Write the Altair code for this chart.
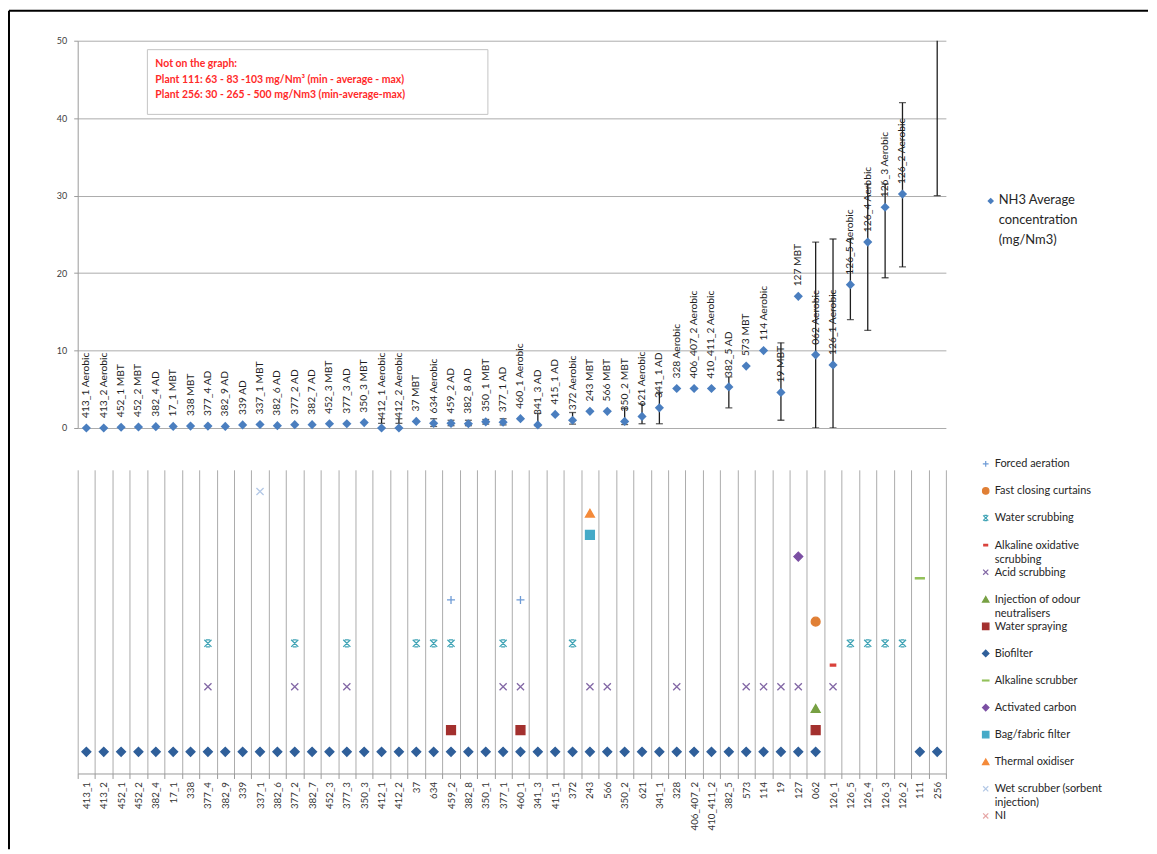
import altair as alt
import pandas as pd

N = None

# ---------------- data ----------------
plants = ["413_1", "413_2", "452_1", "452_2", "382_4", "17_1", "338", "377_4", "382_9", "339",
          "337_1", "382_6", "377_2", "382_7", "452_3", "377_3", "350_3", "412_1", "412_2", "37",
          "634", "459_2", "382_8", "350_1", "377_1", "460_1", "341_3", "415_1", "372", "243",
          "566", "350_2", "621", "341_1", "328", "406_407_2", "410_411_2", "382_5", "573", "114",
          "19", "127", "062", "126_1", "126_5", "126_4", "126_3", "126_2", "111", "256"]

process = ["Aerobic", "Aerobic", "MBT", "MBT", "AD", "MBT", "MBT", "AD", "AD", "AD",
           "MBT", "AD", "AD", "AD", "MBT", "AD", "MBT", "Aerobic", "Aerobic", "MBT",
           "Aerobic", "AD", "AD", "MBT", "AD", "Aerobic", "AD", "AD", "Aerobic", "MBT",
           "MBT", "MBT", "Aerobic", "AD", "Aerobic", "Aerobic", "Aerobic", "AD", "MBT", "Aerobic",
           "MBT", "MBT", "Aerobic", "Aerobic", "Aerobic", "Aerobic", "Aerobic", "Aerobic", "", ""]

nh3_avg = [0.0, 0.0, 0.1, 0.13, 0.17, 0.2, 0.25, 0.25, 0.2, 0.4,
           0.45, 0.3, 0.43, 0.43, 0.55, 0.55, 0.7, 0.0, 0.0, 0.85,
           0.6, 0.6, 0.55, 0.8, 0.75, 1.2, 0.4, 1.75, 1.0, 2.15,
           2.15, 0.85, 1.5, 2.6, 5.1, 5.1, 5.1, 5.3, 8.0, 10.0,
           4.6, 17.0, 9.45, 8.15, 18.5, 24.0, 28.5, 30.2, 83, 265]

nh3_min = [N, N, N, N, N, N, N, N, N, N,
           N, N, N, N, N, N, N, 0.6, 0.6, N,
           0.2, 0.3, 0.3, 0.5, 0.4, N, 0.3, N, 0.5, N,
           N, 0.45, 0.55, 0.55, N, N, N, 2.6, N, N,
           1.0, N, 0.0, 0.0, 14.0, 12.6, 19.4, 20.8, 63, 30]

nh3_max = [N, N, N, N, N, N, N, N, N, N,
           N, N, N, N, N, N, N, 1.2, 1.2, N,
           1.2, 1.0, 1.0, 1.1, 1.2, N, 1.9, N, 2.0, N,
           N, 2.5, 3.1, 4.6, N, N, N, 6.6, N, N,
           11.0, N, 24.0, 24.4, 24.4, 31.5, 31.5, 42.0, 103, 500]

y_ticks = [0, 5, 10, 15, 20, 25, 30, 35, 40, 45, 50]

note_lines = ["Not on the graph:",
              "Plant 111: 63 - 83 -103 mg/Nm\u00b3 (min - average - max)",
              "Plant 256: 30 - 265 - 500 mg/Nm3 (min-average-max)"]

series_label = "NH3 Average\nconcentration\n(mg/Nm3)"

tech_names = ["Forced aeration", "Fast closing curtains", "Water scrubbing",
              "Alkaline oxidative scrubbing", "Acid scrubbing", "Injection of odour neutralisers",
              "Water spraying", "Biofilter", "Alkaline scrubber", "Activated carbon",
              "Bag/fabric filter", "Thermal oxidiser", "Wet scrubber (sorbent injection)", "NI"]
tech_legend_labels = ["Forced aeration", "Fast closing curtains", "Water scrubbing",
                      "Alkaline oxidative\nscrubbing", "Acid scrubbing", "Injection of odour\nneutralisers",
                      "Water spraying", "Biofilter", "Alkaline scrubber", "Activated carbon",
                      "Bag/fabric filter", "Thermal oxidiser", "Wet scrubber (sorbent\ninjection)", "NI"]
tech_level = [8, 7, 6, 5, 4, 3, 2, 1, 9, 10, 11, 12, 13, 14]

forced_aeration = ["459_2", "460_1"]
fast_closing_curtains = ["062"]
water_scrubbing = ["377_4", "377_2", "377_3", "37", "634", "459_2", "377_1", "372",
                   "126_5", "126_4", "126_3", "126_2"]
alkaline_oxidative = ["126_1"]
acid_scrubbing = ["377_4", "377_2", "377_3", "377_1", "460_1", "243", "566", "328",
                  "573", "114", "19", "127", "126_1"]
odour_neutralisers = ["062"]
water_spraying = ["459_2", "460_1", "062"]
biofilter = ["413_1", "413_2", "452_1", "452_2", "382_4", "17_1", "338", "377_4", "382_9", "339",
             "337_1", "382_6", "377_2", "382_7", "452_3", "377_3", "350_3", "412_1", "412_2", "37",
             "634", "459_2", "382_8", "350_1", "377_1", "460_1", "341_3", "415_1", "372", "243",
             "566", "350_2", "621", "341_1", "328", "406_407_2", "410_411_2", "382_5", "573", "114",
             "19", "127", "062", "111", "256"]
alkaline_scrubber = ["111"]
activated_carbon = ["127"]
bag_filter = ["243"]
thermal_oxidiser = ["243"]
wet_scrubber = ["337_1"]
no_info = []

tech_members = [forced_aeration, fast_closing_curtains, water_scrubbing, alkaline_oxidative,
                acid_scrubbing, odour_neutralisers, water_spraying, biofilter, alkaline_scrubber,
                activated_carbon, bag_filter, thermal_oxidiser, wet_scrubber, no_info]

# ---------------- styles ----------------
FONT = "Lato"
GRID = "#ABABAB"
TXT = "#262626"
tech_colors = ["#6E9BD6", "#E07F35", "#3FA3B5", "#D9403A", "#8267A5", "#77A043",
               "#A3302E", "#2F5F9A", "#93C15A", "#7B4FA3", "#45AAC8", "#F48A3A",
               "#B3C8E6", "#E6A6A6"]
X_PATH = "M-0.8,-0.8L0.8,0.8M0.8,-0.8L-0.8,0.8"
tech_shapes = ["M-0.9,0L0.9,0M0,-0.9L0,0.9",
               "circle",
               "M-0.8,-0.8L0.8,0.8M0.8,-0.8L-0.8,0.8M-0.45,-0.8L0.45,-0.8M-0.45,0.8L0.45,0.8",
               "M-0.6,-0.22L0.6,-0.22L0.6,0.22L-0.6,0.22Z",
               X_PATH,
               "triangle-up",
               "square",
               "diamond",
               "M-1,-0.14L1,-0.14L1,0.14L-1,0.14Z",
               "diamond",
               "square",
               "triangle-up",
               X_PATH,
               X_PATH]

# ---------------- frames ----------------
df = pd.DataFrame({"plant": plants, "process": process, "avg": nh3_avg,
                   "lo": nh3_min, "hi": nh3_max})
df["label"] = df["plant"] + " " + df["process"]
df_pts = df[df["avg"] <= 50]
df_err = df[df["lo"].notna()]

rows = []
for name, lvl, members in zip(tech_names, tech_level, tech_members):
    for p in members:
        rows.append({"plant": p, "technique": name, "level": lvl})
df_tech = pd.DataFrame(rows)

df_leg = pd.DataFrame({"technique": tech_names, "label": tech_legend_labels,
                       "order": list(range(len(tech_names)))})

one = pd.DataFrame({"k": [0]})

W = 872
COLSP = 36

# ---------------- top panel ----------------
xs_top = alt.X("plant:N", sort=plants,
               scale=alt.Scale(domain=plants, paddingInner=0, paddingOuter=0), axis=None)
ys_top = alt.Y("avg:Q", scale=alt.Scale(domain=[0, 50]),
               axis=alt.Axis(values=y_ticks, title=None, grid=True, gridColor=GRID,
                             domainColor="#9A9A9A", tickColor="#9A9A9A", tickSize=4,
                             labelFontSize=9, labelColor="#404040", labelPadding=7,
                             labelFont=FONT))

err_rule = alt.Chart(df_err).mark_rule(color="#1F1F1F", strokeWidth=1.3, clip=True).encode(
    x=xs_top, y=alt.Y("lo:Q", scale=alt.Scale(domain=[0, 50])), y2="hi:Q")
err_lo = alt.Chart(df_err).mark_tick(color="#1F1F1F", thickness=1.3, size=7, clip=True).encode(
    x=xs_top, y=alt.Y("lo:Q", scale=alt.Scale(domain=[0, 50])))
err_hi = alt.Chart(df_err).mark_tick(color="#1F1F1F", thickness=1.3, size=7, clip=True).encode(
    x=xs_top, y=alt.Y("hi:Q", scale=alt.Scale(domain=[0, 50])))

pts = alt.Chart(df_pts).mark_point(shape="diamond", filled=True, size=85, opacity=1,
                                   color="#4A7EBF").encode(x=xs_top, y=ys_top)
lbls = alt.Chart(df_pts).mark_text(angle=270, align="left", baseline="middle", dx=10,
                                   fontSize=10.3, font=FONT, color="#1E1E1E").encode(
    x=xs_top, y=alt.Y("avg:Q"), text="label:N")

note_box = alt.Chart(one).mark_rect(fill="white", stroke="#C4C4C4", strokeWidth=1).encode(
    x=alt.value(70), x2=alt.value(412), y=alt.value(9), y2=alt.value(74))
note_txt = alt.Chart(pd.DataFrame({"t": ["\n".join(note_lines)]})).mark_text(
    align="left", baseline="middle", lineBreak="\n", lineHeight=15.5, fontSize=10.5,
    fontWeight="bold", font=FONT, color="#FF2A2A").encode(
    x=alt.value(78), y=alt.value(23.5), text="t:N")

border_top = alt.Chart(one).mark_rule(color="black", strokeWidth=2).encode(
    x=alt.value(-69), x2=alt.value(1075), y=alt.value(-30))
border_left = alt.Chart(one).mark_rule(color="black", strokeWidth=2).encode(
    x=alt.value(-69), y=alt.value(-30), y2=alt.value(812))

top = alt.layer(note_box, note_txt, err_rule, err_lo, err_hi, pts, lbls,
                border_top, border_left).properties(width=W, height=389)

top_leg = alt.layer(
    alt.Chart(one).mark_point(shape="diamond", filled=True, size=45, opacity=1,
                              color="#4A7EBF").encode(x=alt.value(9), y=alt.value(161)),
    alt.Chart(pd.DataFrame({"t": [series_label]})).mark_text(
        align="left", baseline="top", dy=-7, lineBreak="\n", lineHeight=20, fontSize=13,
        font=FONT, color=TXT).encode(x=alt.value(17), y=alt.value(161), text="t:N"),
).properties(width=150, height=389)

# ---------------- bottom panel ----------------
fill_sc = alt.Scale(domain=tech_names, range=tech_colors)
shape_sc = alt.Scale(domain=tech_names, range=tech_shapes)

bot = alt.Chart(df_tech).mark_point(size=80, strokeWidth=1.3, opacity=1).encode(
    x=alt.X("plant:N", sort=plants,
            scale=alt.Scale(domain=plants, paddingInner=0, paddingOuter=0),
            axis=alt.Axis(title=None, labelAngle=270, tickBand="extent", grid=True,
                          gridColor=GRID, domainColor="#9A9A9A", tickColor="#9A9A9A",
                          tickSize=5, labelFontSize=9.8, labelPadding=3,
                          labelColor="#333333", labelFont=FONT)),
    y=alt.Y("level:Q", scale=alt.Scale(domain=[0, 14]), axis=None),
    fill=alt.Fill("technique:N", scale=fill_sc, legend=None),
    stroke=alt.Stroke("technique:N", scale=fill_sc, legend=None),
    shape=alt.Shape("technique:N", scale=shape_sc, legend=None),
).properties(width=W, height=305)

leg_y = alt.Y("order:Q", scale=alt.Scale(domain=[0, 13], range=[-6, 347.6]), axis=None)
bot_leg = alt.layer(
    alt.Chart(df_leg).mark_point(size=42, strokeWidth=1.2, opacity=1).encode(
        x=alt.value(4), y=leg_y,
        fill=alt.Fill("technique:N", scale=fill_sc, legend=None),
        stroke=alt.Stroke("technique:N", scale=fill_sc, legend=None),
        shape=alt.Shape("technique:N", scale=shape_sc, legend=None)),
    alt.Chart(df_leg).mark_text(align="left", baseline="top", dy=-5.5, lineBreak="\n",
                                lineHeight=14, fontSize=11, font=FONT, color=TXT).encode(
        x=alt.value(13), y=leg_y, text="label:N"),
).properties(width=150, height=305)

chart = alt.concat(
    top, top_leg, bot, bot_leg,
    columns=2, spacing={"row": 42, "column": COLSP}, bounds="flush", align="each",
).properties(padding=0).configure(font=FONT).configure_view(stroke=None)

chart.save("out.html", embed_options={"renderer": "svg", "actions": False})
